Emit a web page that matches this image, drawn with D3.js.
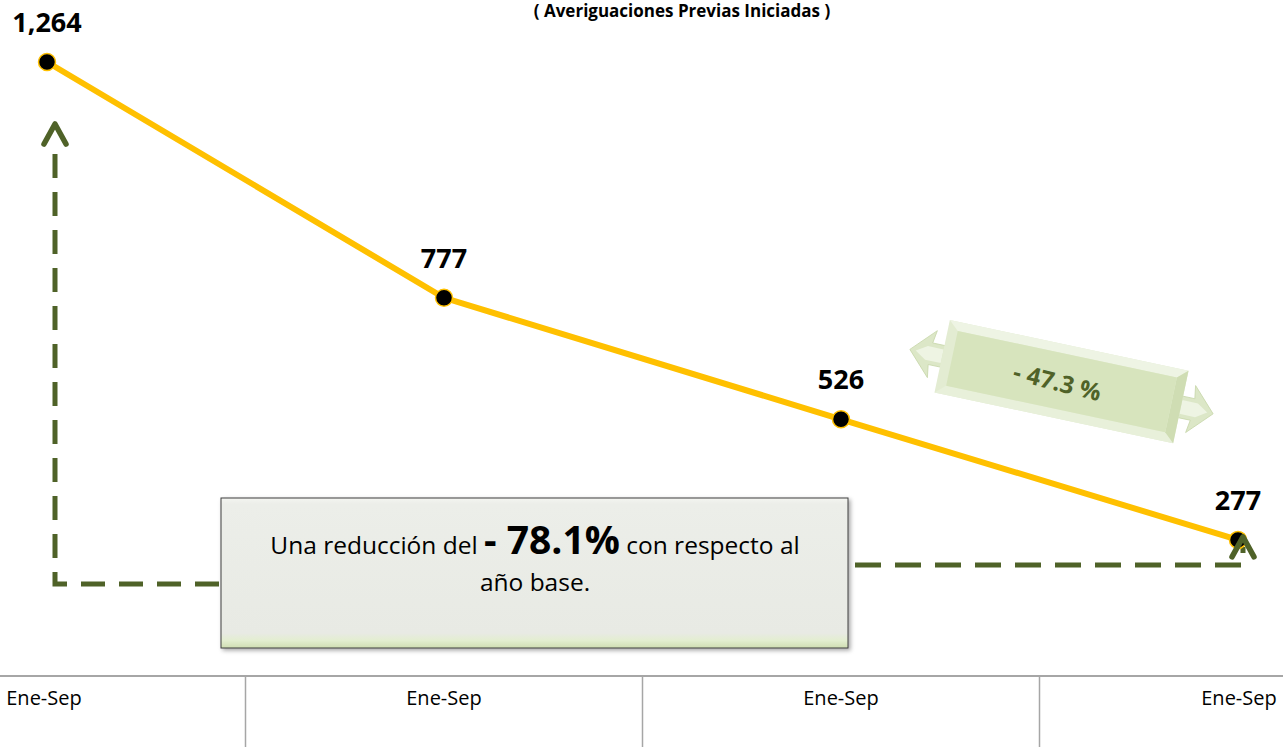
<!DOCTYPE html>
<html>
<head>
<meta charset="utf-8">
<script src="https://cdn.jsdelivr.net/npm/d3@7"></script>
<style>
  body { margin: 0; background: white; overflow: hidden; }
  #chart { width: 1283px; height: 747px; }
  text { font-family: "Open Sans", "DejaVu Sans", sans-serif; }
</style>
</head>
<body>
<div id="chart"></div>
<script>
// chart data
const periods = ["Ene-Sep", "Ene-Sep", "Ene-Sep", "Ene-Sep"];
const values = [1264, 777, 526, 277];
const valueLabels = ["1,264", "777", "526", "277"];
const title = "( Averiguaciones Previas Iniciadas )";

const W = 1283, H = 747;
const green = "#4F6228";

const svg = d3.select("#chart").append("svg")
    .attr("width", W).attr("height", H);

const defs = svg.append("defs");

// gradients for the note box
const boxGrad = defs.append("linearGradient").attr("id", "boxGrad")
    .attr("x1", 0).attr("y1", 0).attr("x2", 0).attr("y2", 1);
boxGrad.append("stop").attr("offset", "0%").attr("stop-color", "#F4F5F1");
boxGrad.append("stop").attr("offset", "4%").attr("stop-color", "#ECEEE9");
boxGrad.append("stop").attr("offset", "90%").attr("stop-color", "#E8EAE4");
boxGrad.append("stop").attr("offset", "95%").attr("stop-color", "#E3EED0");
boxGrad.append("stop").attr("offset", "100%").attr("stop-color", "#CFDEB2");

const shadow = defs.append("filter").attr("id", "shadow")
    .attr("x", "-10%").attr("y", "-10%").attr("width", "130%").attr("height", "130%");
shadow.append("feDropShadow").attr("dx", 2).attr("dy", 2).attr("stdDeviation", 2)
    .attr("flood-color", "#000").attr("flood-opacity", 0.35);

const idx = d3.range(values.length);
const x = d3.scalePoint().domain(idx).range([47, 1238]);
const y = d3.scaleLinear().domain([0, 1264]).range([674, 62]);
const step = x.step();

// category axis (table-like)
const axisY = 676;
const axis = svg.append("g");
axis.append("line")
    .attr("x1", 0).attr("x2", W).attr("y1", axisY).attr("y2", axisY)
    .attr("stroke", "#A6A6A6").attr("stroke-width", 2);
axis.selectAll(".sep").data(idx.slice(0, -1)).enter().append("line")
    .attr("class", "sep")
    .attr("x1", d => x(d) + step / 2).attr("x2", d => x(d) + step / 2)
    .attr("y1", axisY).attr("y2", H)
    .attr("stroke", "#A6A6A6").attr("stroke-width", 1.5);
axis.selectAll(".cat").data(idx).enter().append("text")
    .attr("class", "cat")
    .attr("x", d => x(d) + (d === 0 ? -3 : d === 3 ? 1 : 0)).attr("y", 705)
    .attr("text-anchor", "middle")
    .style("font-size", "20px").style("fill", "#000")
    .text(d => periods[d]);

// title
svg.append("text")
    .attr("x", 682).attr("y", 17)
    .attr("text-anchor", "middle")
    .style("font-size", "17px").style("font-weight", "bold")
    .text(title);

// dashed green guide arrows
const leftX = x(0) + 8;
const leftBottom = y(0) - 90;
const rightX = x(3) + 5;
const rightY = y(values[3]) + 25;
const dashed = svg.append("g")
    .attr("fill", "none").attr("stroke", green).attr("stroke-width", 5)
    .attr("stroke-dasharray", "24,14");
dashed.append("path")
    .attr("d", `M${leftX},${y(values[0]) + 92} L${leftX},${leftBottom} L${leftX + 170},${leftBottom}`);
dashed.append("path")
    .attr("d", `M${rightX - 388},${rightY} L${rightX},${rightY} L${rightX},${rightY - 18}`)
    .attr("stroke-dasharray", "26,14");

const chevron = (cx, top) =>
    `M${cx - 11},${top + 20} L${cx},${top} L${cx + 11},${top + 20}`;

svg.append("path")
    .attr("d", chevron(leftX, y(values[0]) + 62))
    .attr("fill", "none").attr("stroke", green).attr("stroke-width", 5.5)
    .attr("stroke-linecap", "round").attr("stroke-linejoin", "round");

// the series line
const line = d3.line().x(d => x(d)).y(d => y(values[d]));
svg.append("path")
    .datum(idx)
    .attr("d", line)
    .attr("fill", "none")
    .attr("stroke", "#FFC000")
    .attr("stroke-width", 6);

svg.selectAll(".dot").data(idx).enter().append("circle")
    .attr("class", "dot")
    .attr("cx", d => x(d)).attr("cy", d => y(values[d]))
    .attr("r", 8.5)
    .attr("fill", "#000").attr("stroke", "#FFC000").attr("stroke-width", 1.5);

// right chevron sits over the last marker
svg.append("path")
    .attr("d", chevron(rightX, y(values[3]) - 3))
    .attr("fill", "none").attr("stroke", green).attr("stroke-width", 5.5)
    .attr("stroke-linecap", "round").attr("stroke-linejoin", "round");

svg.selectAll(".vlabel").data(idx).enter().append("text")
    .attr("class", "vlabel")
    .attr("x", d => x(d)).attr("y", d => y(values[d]) - 30)
    .attr("text-anchor", "middle")
    .style("font-size", "27px").style("font-weight", "bold")
    .text(d => valueLabels[d]);

// note box with reduction vs base year
const totalDrop = ((values[3] - values[0]) / values[0] * 100).toFixed(1);
const box = svg.append("g");
box.append("rect")
    .attr("x", 221).attr("y", 498).attr("width", 627).attr("height", 150)
    .attr("fill", "url(#boxGrad)").attr("stroke", "#3F3F3F").attr("stroke-width", 1)
    .attr("filter", "url(#shadow)");
const t1 = box.append("text")
    .attr("x", 535).attr("y", 554)
    .attr("text-anchor", "middle")
    .style("font-size", "24.5px");
t1.append("tspan").text("Una reducción del ");
t1.append("tspan").style("font-size", "39px").style("font-weight", "bold")
    .text("- " + Math.abs(totalDrop) + "%");
t1.append("tspan").text(" con respecto al");
box.append("text")
    .attr("x", 535).attr("y", 591)
    .attr("text-anchor", "middle")
    .style("font-size", "24.5px")
    .text("año base.");

// double-headed arrow with the last period change
const lastDrop = ((values[3] - values[2]) / values[2] * 100).toFixed(1);
const ax = (x(2) + x(3)) / 2 + 22, ay = (y(values[2]) + y(values[3])) / 2 - 98;
const arrow = svg.append("g")
    .attr("transform", `translate(${ax},${ay}) rotate(12)`);
const headPath = s => `M${s * 118},-11 L${s * 134},-11 L${s * 132},-24 L${s * 155},0 L${s * 132},24 L${s * 134},11 L${s * 118},11 Z`;
[-1, 1].forEach(s => {
    arrow.append("path").attr("d", headPath(s))
        .attr("fill", "#DCE7C7").attr("stroke", "#C9D8AC").attr("stroke-width", 0.8);
    arrow.append("path")
        .attr("d", `M${s * 122},-7 L${s * 138},-7 L${s * 149},0 L${s * 138},7 L${s * 122},7 Z`)
        .attr("fill", "#EEF4E3");
});
arrow.append("rect")
    .attr("x", -122).attr("y", -37).attr("width", 244).attr("height", 74)
    .attr("fill", "#E3ECD2");
arrow.append("path")
    .attr("d", "M-122,-37 L122,-37 L112,-28 L-112,-28 Z")
    .attr("fill", "#EEF4E4");
arrow.append("path")
    .attr("d", "M-122,37 L122,37 L112,28 L-112,28 Z")
    .attr("fill", "#E8F0DA");
arrow.append("path")
    .attr("d", "M122,-37 L122,37 L112,28 L112,-28 Z")
    .attr("fill", "#CFDDB3");
arrow.append("rect")
    .attr("x", -112).attr("y", -28).attr("width", 224).attr("height", 56)
    .attr("fill", "#D7E4BD");
arrow.append("text")
    .attr("x", -4).attr("y", 10)
    .attr("text-anchor", "middle")
    .attr("transform", "rotate(2)")
    .style("font-size", "24px").style("font-weight", "bold")
    .style("fill", green)
    .text("- " + Math.abs(lastDrop) + " %");
</script>
</body>
</html>
